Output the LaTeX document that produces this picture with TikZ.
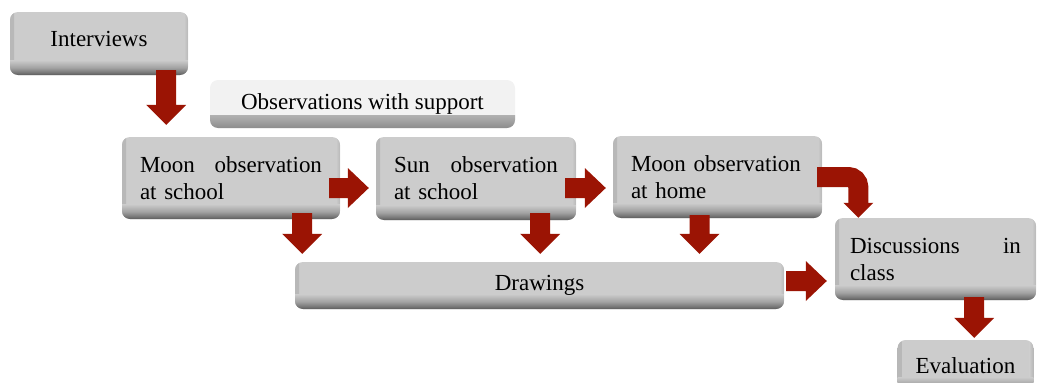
\documentclass[tikz,border=0pt]{standalone}
\usepackage{fontspec}
\setmainfont{Liberation Serif}
\usetikzlibrary{calc}
\definecolor{arrowred}{RGB}{155,20,4}
\pgfdeclareverticalshading{bandgray}{100bp}{color(0bp)=(black!64); color(25bp)=(black!64); color(33bp)=(black!54); color(50bp)=(black!36); color(75bp)=(black!20); color(100bp)=(black!20)}
\pgfdeclareverticalshading{bandlight}{100bp}{color(0bp)=(black!45); color(25bp)=(black!45); color(33bp)=(black!36); color(50bp)=(black!20); color(75bp)=(black!5); color(100bp)=(black!5)}
\pgfdeclarehorizontalshading{edgegray}{100bp}{color(0bp)=(black!28); color(25bp)=(black!28); color(75bp)=(black!20); color(100bp)=(black!20)}
\newcommand\blkdown[2]{\fill[arrowred] ($(#1)+(-10,0)$) -- ($(#1)+(10,0)$) -- ($(#2)+(10,-20)$) -- ($(#2)+(20,-20)$) -- (#2) -- ($(#2)+(-20,-20)$) -- ($(#2)+(-10,-20)$) -- cycle;}
\newcommand\blkright[2]{\fill[arrowred] ($(#1)+(0,-10)$) -- ($(#1)+(0,10)$) -- ($(#2)+(-21,10)$) -- ($(#2)+(-21,20)$) -- (#2) -- ($(#2)+(-21,-20)$) -- ($(#2)+(-21,-10)$) -- cycle;}
\tikzset{
  boxst/.style={rounded corners=8pt, fill=black!20, font=\fontsize{23}{27}\selectfont,
    inner ysep=0pt, inner xsep=18pt,
    path picture={
      \shade[shading=edgegray, sharp corners] (path picture bounding box.north west) rectangle ($(path picture bounding box.south west)+(4,0)$);
      \shade[shading=edgegray, shading angle=180, sharp corners] ($(path picture bounding box.north east)+(-4,0)$) rectangle (path picture bounding box.south east);
      \shade[shading=bandgray, sharp corners]
      ($(path picture bounding box.south west)+(0,-15)$) rectangle (path picture bounding box.south east);}},
  lightst/.style={boxst, fill=black!5,
    path picture={\shade[shading=bandlight, sharp corners]
      ($(path picture bounding box.south west)+(0,-13)$) rectangle (path picture bounding box.south east);}},
}
\begin{document}
\begin{tikzpicture}[x=1pt,y=-1pt]
\useasboundingbox (0,0) rectangle (1037,383);
\clip (0,0) rectangle (1037,383);
% boxes
\node[boxst, minimum width=178, minimum height=63, text height=16pt, text depth=11pt] (interv) at (99,43.5) {Interviews};
\node[lightst, minimum width=305, minimum height=48] (obs) at (362.5,104) {Observations with support};
\node[boxst, minimum height=82, text width=182, align=left] (mschool) at (231,178) {Moon\hfill observation\\at school};
\node[boxst, minimum height=83, text width=164, align=left] (sschool) at (476,178.5) {Sun\hfill observation\\at school};
\node[boxst, minimum height=82, text width=173, align=left] (mhome) at (717.5,177) {Moon observation\\at home};
\node[boxst, minimum width=489, minimum height=47] (drawings) at (539.5,285.5) {Drawings};
\node[boxst, inner xsep=15pt, minimum height=82, text width=171, align=left] (disc) at (935.5,259) {Discussions\hfill in\\class};
\node[boxst, minimum width=131, minimum height=52] (eval) at (965.5,366) {Evaluation};
% arrows
\coordinate (a1s) at ($(interv.south east)+(-22,-5)$);
\coordinate (a1e) at ($(a1s |- mschool.north)+(0,-12)$);
\blkdown{a1s}{a1e}
\coordinate (a2s) at ($(mschool.south east)+(-38,-6)$);
\coordinate (a2e) at ($(a2s |- drawings.north)+(0,-8)$);
\blkdown{a2s}{a2e}
\coordinate (a3s) at ($(sschool.south east)+(-36,-7)$);
\coordinate (a3e) at ($(a3s |- drawings.north)+(0,-8)$);
\blkdown{a3s}{a3e}
\coordinate (a4s) at ($(mhome.south)+(-18,-3)$);
\coordinate (a4e) at ($(a4s |- drawings.north)+(0,-8)$);
\blkdown{a4s}{a4e}
\coordinate (a5s) at ($(disc.south east)+(-62,-3)$);
\coordinate (a5e) at ($(a5s |- eval.north)+(0,-2)$);
\blkdown{a5s}{a5e}
\coordinate (r1s) at ($(mschool.east)+(-11,10)$);
\coordinate (r1e) at ($(r1s -| sschool.west)+(-7,0)$);
\blkright{r1s}{r1e}
\coordinate (r2s) at ($(sschool.east)+(-11,9.5)$);
\coordinate (r2e) at ($(r2s -| mhome.west)+(-7,0)$);
\blkright{r2s}{r2e}
\coordinate (r3s) at ($(drawings.east)+(2,-4.5)$);
\coordinate (r3e) at ($(r3s -| disc.west)+(-8,0)$);
\blkright{r3s}{r3e}
\coordinate (cs) at ($(mhome.east)+(-5,0)$);
\coordinate (ct) at ($(disc.north west)+(23.5,0)$);
\draw[arrowred, line width=20pt, rounded corners=10pt] (cs) -| ($(ct)+(0,-15)$);
\fill[arrowred] ($(ct)+(-15,-15)$) -- ($(ct)+(15,-15)$) -- (ct) -- cycle;
\end{tikzpicture}
\end{document}
